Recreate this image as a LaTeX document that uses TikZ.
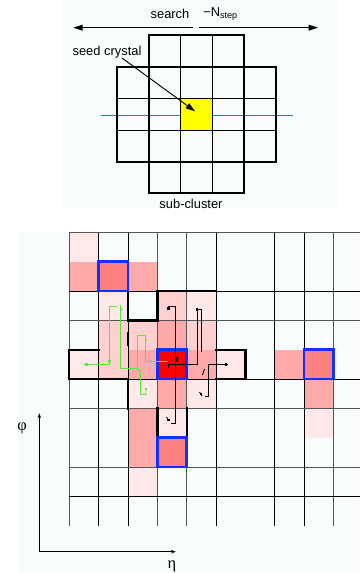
\documentclass[tikz,border=0pt]{standalone}
\usepackage{fontspec}
\setmainfont{Liberation Sans}
\newfontfamily\grkfont{Liberation Serif}
\usetikzlibrary{arrows.meta}
\definecolor{seedyellow}{HTML}{FFFF00}
\definecolor{cutteal}{HTML}{1F8C8C}
\definecolor{gridgray}{HTML}{555555}
\definecolor{pkA}{HTML}{FFE8E8}
\definecolor{pkB}{HTML}{FFD0D0}
\definecolor{pkC}{HTML}{FFAAAA}
\definecolor{pkD}{HTML}{FF8080}
\definecolor{seedred}{HTML}{FF0000}
\definecolor{maxblue}{HTML}{1030FF}
\definecolor{walkgreen}{HTML}{5CE83A}
\definecolor{bgazure}{HTML}{F8FCFC}

\begin{document}
\begin{tikzpicture}[x=0.03cm, y=-0.03cm,
  lbl/.style={font=\fontsize{11}{13}\selectfont, inner sep=0pt},
  gridline/.style={line width=0.8pt},
  thickline/.style={line width=1.7pt, line cap=rect},
  clusterline/.style={line width=2pt, black, line cap=rect},
  maxbox/.style={draw=maxblue, line width=2.2pt},
  seedbox/.style={fill=seedyellow, minimum width=0.948cm, minimum height=0.95cm, inner sep=0pt},
  walkG/.style={walkgreen, line width=0.8pt},
  walkK/.style={black, line width=0.7pt},
  ptr/.style={-{Triangle[length=8pt,width=5pt]}, line width=0.8pt},
  axisarr/.style={-{Stealth[length=4pt,width=3pt]}, line width=0.8pt}
]
\useasboundingbox (0,0) rectangle (360,573);
\fill[bgazure] (61.7,0) rectangle (337,208.3);
\fill[bgazure] (18.3,231.7) rectangle (360,573);

% search range
\coordinate (searchL) at (73.3,27.7);
\coordinate (searchR) at (318,27.7);
\coordinate (gapL) at (193,27.7);
\coordinate (gapR) at (199,27.7);
\draw[ptr] (gapL) -- (searchL);
\draw[ptr] (gapR) -- (searchR);
\node[lbl] (searchlbl) at (170,14) {search};
\node[lbl, anchor=west] (nsteplbl) at (203,14) {−N\textsubscript{step}};

% sub-cluster around the seed
\draw[cutteal, line width=0.8pt] (101,115) -- (293,115);
\node[seedbox] (seed) at (196.5,114.3) {};
\draw[gridline] (180.7,35) -- (180.7,193.3) (212.3,35) -- (212.3,193.3)
  (116.7,98.7) -- (275.7,98.7) (116.7,130) -- (275.7,130);
\draw[thickline] (149.3,35) rectangle (244,193.3);
\draw[thickline] (116.7,66.7) rectangle (275.7,161.7);
\node[lbl] (seedlbl) at (107,52) {seed crystal};
\draw[ptr] ([shift={(15,6)}]seedlbl.center) -- ([shift={(-1.5,-3)}]seed.center);
\node[lbl] (subclbl) at (191,204) {sub-cluster};

% eta-phi map
\begin{scope}[shift={(69.3,232.3)}, x=0.8805cm, y=-0.8805cm]
  \foreach \c/\r in {0/0,1/2,4/2,0/4,5/4,2/5,4/5,3/6,2/8,8/6}
    \fill[pkA] (\c,\r) rectangle ++(1,1);
  \foreach \c/\r in {3/2,1/3,2/3,4/3,1/4}
    \fill[pkB] (\c,\r) rectangle ++(1,1);
  \foreach \c/\r in {0/1,2/1,3/3,2/4,4/4,3/5,2/6,2/7,7/4,8/5}
    \fill[pkC] (\c,\r) rectangle ++(1,1);
  \foreach \c/\r in {1/1,8/4,3/7}
    \fill[pkD] (\c,\r) rectangle ++(1,1);
  \fill[seedred] (3,4) rectangle ++(1,1);
  \foreach \c/\col in {0/gridgray,1/black,2/black,3/gridgray,4/gridgray,5/black,7/black,8/black,9/gridgray}
    \draw[gridline, \col] (\c,0) -- (\c,10);
  \foreach \r/\col in {0/gridgray,2/black,3/gridgray,5/black,6/gridgray,8/gridgray,9/black}
    \draw[gridline, \col] (0,\r) -- (9.92,\r);
  \draw[clusterline] (2,2) -- (2,3) -- (3,3) -- (3,2) -- (5,2);
  \draw[clusterline] (1,4) -- (0,4) -- (0,5) -- (2,5) -- (2,6);
  \draw[clusterline] (5,4) -- (6,4) -- (6,5) -- (5,5);
  \draw[clusterline] (2,3.45) -- (2,3.85);
  \draw[clusterline] (3,6) -- (3,7) (4,6) -- (4,7);
  \foreach \c/\r in {1/1,3/4,8/4,3/7}
    \draw[maxbox] (\c,\r) rectangle ++(1,1);
\end{scope}

% climbing paths
\draw[walkG] (84,364.3) -- (109.3,364.3) -- (109.3,306.7) -- (116.7,306.7);
\draw[walkG] (120.7,305) -- (120.7,368.3) -- (137.7,368.3) -- (137.7,335)
  -- (145.3,335) -- (145.3,361) -- (168.3,361);
\draw[walkG] (146,388) -- (146,394.3) -- (140.5,394.3) -- (140.5,372) -- (137.7,368.3);
\foreach \x/\y in {86.5/364.3,109.3/361,120.7/309.3,146/340,151/361,146/389}
  \fill[walkgreen] (\x-1.2,\y-1.2) rectangle (\x+1.2,\y+1.2);
\draw[walkK] (168.3,306.7) -- (175.7,306.7) -- (175.7,423.3) -- (171,423.3);
\draw[walkK] (168.3,368.3) -- (168.3,364.6) -- (197.3,364.6) -- (197.3,309.3)
  -- (201.7,309.3) -- (201.7,352);
\draw[walkK] (202.5,375) -- (204.5,369);
\draw[walkK] (228.3,364.3) -- (208.3,364.3) -- (208.3,396.7) -- (204.5,396.7);
\draw[walkK] (199.5,392) -- (202,396) (166.5,417) -- (169,421);
\foreach \x/\y in {168.3/308.5,196.7/309.3,226/364.3,201/394,168.5/420}
  \fill (\x-1.2,\y-1.2) rectangle (\x+1.2,\y+1.2);
\fill (174.5,357) rectangle (177.5,362);

% axes
\coordinate (origin) at (39.3,551.7);
\coordinate (phitip) at (39.3,413.3);
\coordinate (etatip) at (175.7,551.7);
\draw[axisarr] (origin) -- (phitip);
\draw[axisarr] (origin) -- (etatip);
\node[font=\grkfont\fontsize{14}{16}\selectfont, inner sep=0pt] (philbl) at (22,428) {φ};
\node[font=\grkfont\fontsize{14}{16}\selectfont, inner sep=0pt] (etalbl) at (172,566) {η};
\end{tikzpicture}
\end{document}
